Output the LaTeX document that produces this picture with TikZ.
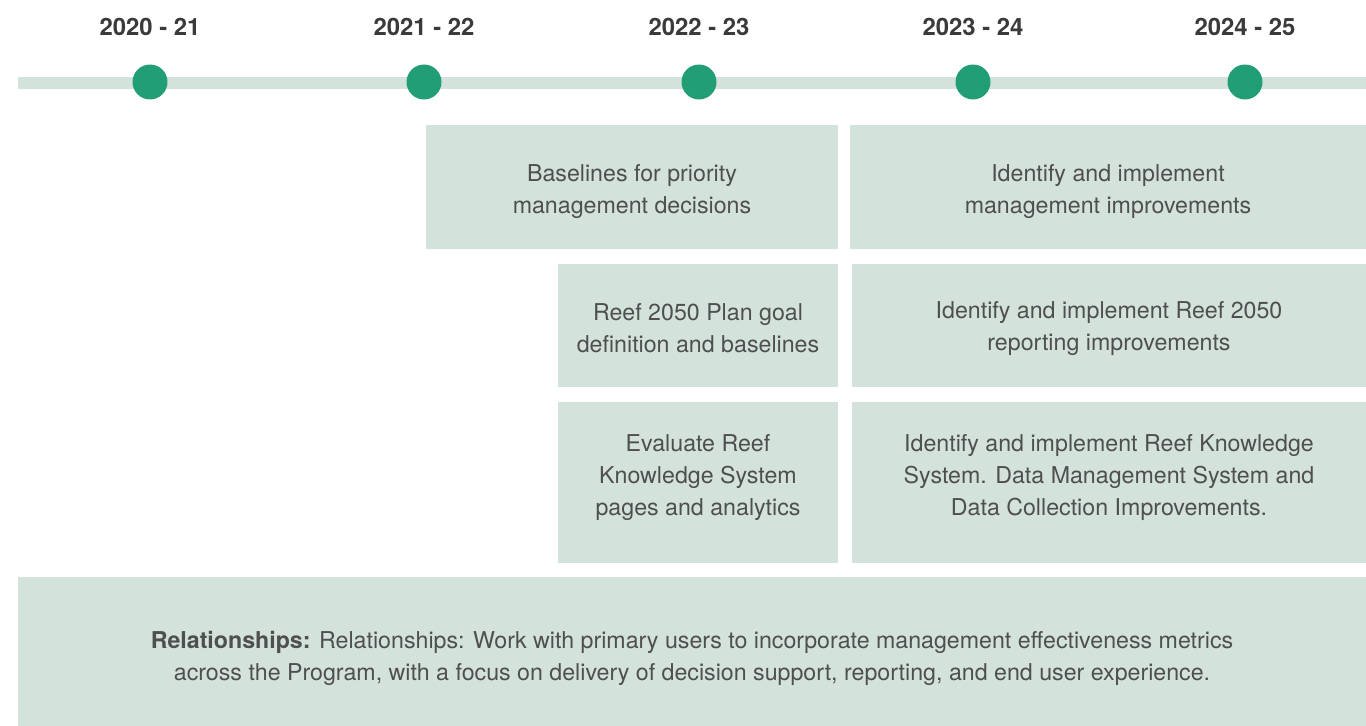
\documentclass[tikz,border=0pt]{standalone}
\usepackage{fontspec}
\setmainfont{TeX Gyre Heros}
\definecolor{boxfill}{HTML}{D3E2DB}
\definecolor{dotgreen}{HTML}{229E77}
\definecolor{txtgrey}{HTML}{4F4F4F}
\definecolor{yeargrey}{HTML}{3A3A3A}
\newcommand{\topgap}[1]{\rule{0pt}{#1}}
\tikzset{
  plan/.style={fill=boxfill,inner sep=0pt,align=center,text=txtgrey,
    font=\fontsize{13.2}{18.2}\selectfont},
  padbottom/.style={execute at end node={\rule[-#1]{0pt}{0pt}}},
  year/.style={text=yeargrey,font=\fontsize{13.6}{15}\selectfont\bfseries}
}
\begin{document}
\begin{tikzpicture}[x=0.02cm,y=-0.02cm]
                            % Frame
                            \useasboundingbox (0,0) rectangle (1366,726);

                            % Timeline
                            \fill[boxfill] (18,77) rectangle (1366,89);
                            \foreach \px/\yr [count=\i] in {150/2020 - 21,424/2021 - 22,699/2022 - 23,973/2023 - 24,1245/2024 - 25}{
                              \fill[dotgreen] (\px,82) circle[radius=0.35cm];
                              \node[year] (y\i) at (\px,27) {\yr};
                            }

                            % Plans
                            \node[plan,minimum width=8.24cm,minimum height=2.48cm] (base) at (632,187)
                                  {\topgap{15.2pt}Baselines for priority\\management decisions};
                            \node[plan,minimum width=10.32cm,minimum height=2.48cm] (mgmt) at (1108,187)
                                  {\topgap{15.2pt}Identify and implement\\management improvements};
                            \node[plan,minimum width=5.6cm,minimum height=2.46cm] (goal) at (698,325.5)
                                  {\topgap{13pt}Reef 2050 Plan goal\\definition and baselines};
                            \node[plan,minimum width=10.28cm,minimum height=2.46cm] (report) at (1109,325.5)
                                  {\topgap{13pt}Identify and implement Reef 2050\\reporting improvements};
                            \node[plan,padbottom=8pt,minimum width=5.6cm,minimum height=3.22cm] (evaluate) at (698,482.5)
                                  {Evaluate Reef\\Knowledge System\\pages and analytics};
                            \node[plan,padbottom=8pt,minimum width=10.28cm,minimum height=3.22cm] (system) at (1109,482.5)
                                  {Identify and implement Reef Knowledge\\System. Data Management System and\\Data Collection Improvements.};

                            % Relationships
                            \node[plan,minimum width=26.96cm,minimum height=2.98cm] (rel) at (692,651.5)
                                  {\topgap{17.5pt}\textbf{Relationships:} Relationships: Work with primary users to incorporate management effectiveness metrics\\across the Program, with a focus on delivery of decision support, reporting, and end user experience.};
                      \end{tikzpicture}
\end{document}
